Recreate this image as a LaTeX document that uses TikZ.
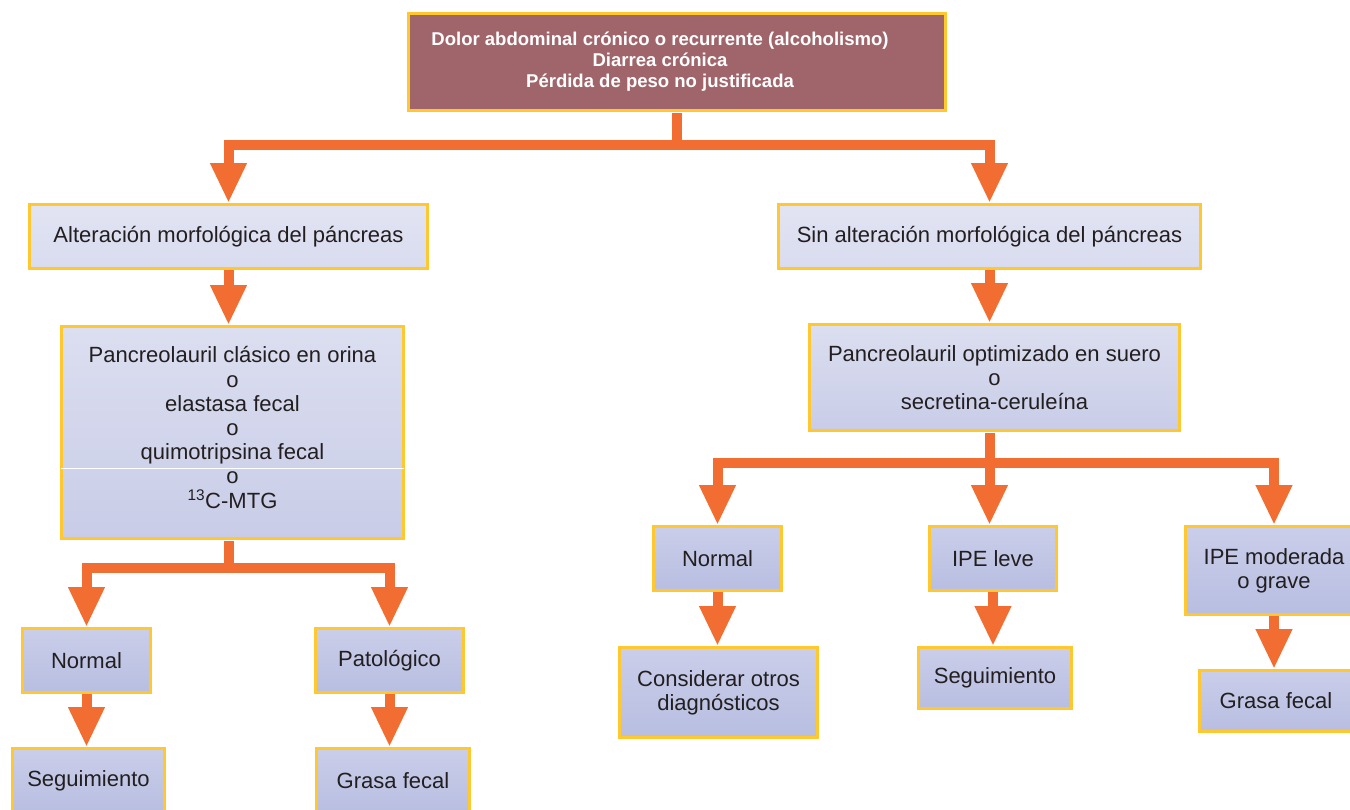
\documentclass[tikz,border=0pt]{standalone}
\usepackage{fontspec}
\setmainfont{Liberation Sans}
\usetikzlibrary{arrows.meta}
\definecolor{orng}{HTML}{F26D31}
\definecolor{ylw}{HTML}{FFC82E}
\definecolor{rose}{HTML}{A0656B}
\definecolor{txt}{HTML}{231F20}
\definecolor{lvA}{HTML}{E2E4F3}
\definecolor{lvB}{HTML}{D9DCEF}
\definecolor{lvC}{HTML}{DCDFF0}
\definecolor{lvD}{HTML}{C8CCE7}
\definecolor{lvE}{HTML}{CACEEA}
\definecolor{lvF}{HTML}{B8BEE1}
\begin{document}
\begin{tikzpicture}[x=1bp,y=-1bp,
  box/.style={draw=ylw, line width=3bp, rectangle, align=center, text=txt,
    font=\fontsize{22.1}{24.3}\selectfont, inner sep=0pt},
  topbox/.style={box, fill=rose},
  toptext/.style={align=center, text=white, inner sep=0pt, font=\bfseries\fontsize{18.6}{21}\selectfont},
  lvone/.style={box, top color=lvA, bottom color=lvB},
  lvtwo/.style={box, top color=lvC, bottom color=lvD},
  lvthree/.style={box, top color=lvE, bottom color=lvF},
  conn/.style={draw=orng, line width=10bp},
  arr/.style={conn, -{Triangle[length=40bp,width=34bp]}}]
\useasboundingbox (0,0) rectangle (1350,809);

% nodes
\node[topbox, minimum width=537bp, minimum height=97bp] (top) at (677,62) {};
\node[toptext] (toplabel) at (660,62)
  {Dolor abdominal crónico o recurrente (alcoholismo)\\Diarrea crónica\\Pérdida de peso no justificada};
\node[lvone, minimum width=398bp, minimum height=64bp] (alt) at (228.5,236.5)
  {Alteración morfológica del páncreas};
\node[lvone, minimum width=422bp, minimum height=64bp] (sin) at (989.5,236.5)
  {Sin alteración morfológica del páncreas};
\node[lvtwo, minimum width=342bp, minimum height=212bp] (pcl) at (232.5,432.5)
  {Pancreolauril clásico en orina\\o\\elastasa fecal\\o\\quimotripsina fecal\\o\\\textsuperscript{13}C-MTG\\[-14bp]\mbox{}};
\node[lvtwo, minimum width=370bp, minimum height=106bp] (pop) at (994.5,377.5)
  {Pancreolauril optimizado en suero\\o\\secretina-ceruleína};
\node[lvthree, minimum width=128bp, minimum height=64bp] (nA) at (86.5,660.5) {Normal};
\node[lvthree, minimum width=148bp, minimum height=64bp] (pat) at (389.5,660.5) {Patológico};
\node[lvthree, minimum width=152bp, minimum height=65bp] (sA) at (88.5,781) {Seguimiento};
\node[lvthree, minimum width=153bp, minimum height=65bp] (gA) at (393,781) {Grasa fecal};
\node[lvthree, minimum width=128bp, minimum height=64bp] (nB) at (717.5,558.5) {Normal};
\node[lvthree, minimum width=127bp, minimum height=64bp] (ipl) at (993,558.5) {IPE leve};
\node[lvthree, minimum width=177bp, minimum height=88bp] (ipm) at (1274,570.5) {IPE moderada\\o grave};
\node[lvthree, minimum width=198bp, minimum height=90bp] (con) at (718.5,692.5) {Considerar otros\\diagnósticos};
\node[lvthree, minimum width=153bp, minimum height=61bp] (sB) at (995,678) {Seguimiento};
\node[lvthree, minimum width=153bp, minimum height=61bp] (gB) at (1276,701) {Grasa fecal};

% faint separator inside pcl
\draw[white, line width=1bp] ([xshift=1.5bp]pcl.west |- 0,468) -- ([xshift=-1.5bp]pcl.east |- 0,468);

% connectors
\draw[conn] ([yshift=-1bp]top.south) -- ++(0,32) coordinate (jA);
\draw[arr] (jA) -| (alt.north);
\draw[arr] (jA) -| (sin.north);

\draw[arr] (alt.south) -- (alt.south |- pcl.north);
\draw[arr] (sin.south) -- (sin.south |- pop.north);

\coordinate (pclout) at (alt.south |- pcl.south);
\draw[conn] ([yshift=-1bp]pclout) -- ++(0,27) coordinate (jB);
\draw[arr] (jB) -| (nA.north);
\draw[arr] (jB) -| (pat.north);
\draw[arr] (nA.south) -- (nA.south |- sA.north);
\draw[arr] (pat.south) -- (pat.south |- gA.north);

\coordinate (popout) at (sin.south |- pop.south);
\draw[conn] ([yshift=-1bp]popout) -- ++(0,30) coordinate (jC);
\draw[arr] (jC) -| (nB.north);
\draw[arr] (jC) -- (jC |- ipl.north);
\draw[arr] (jC) -| (ipm.north);
\draw[arr] (nB.south) -- (nB.south |- con.north);
\draw[arr] (ipl.south) -- (ipl.south |- sB.north);
\draw[arr] (ipm.south) -- (ipm.south |- gB.north);
\end{tikzpicture}
\end{document}
